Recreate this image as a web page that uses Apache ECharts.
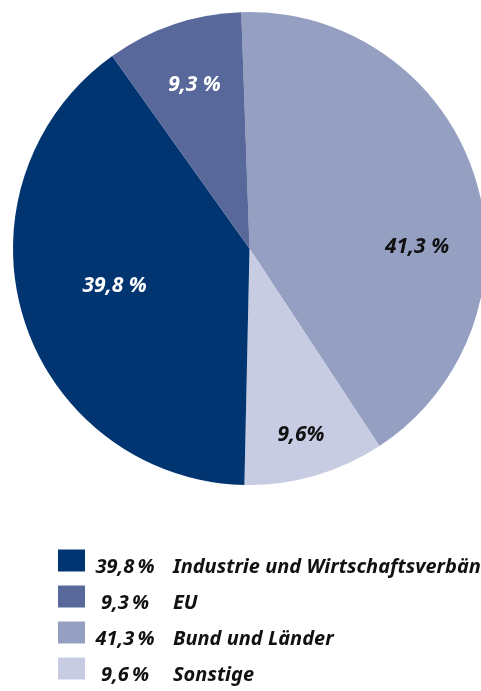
<!DOCTYPE html>
<html><head><meta charset="utf-8">
<script src="https://cdn.jsdelivr.net/npm/echarts@6/dist/echarts.min.js"></script>
<style>html,body{margin:0;padding:0;background:#fff}#c{width:481px;height:691px}</style>
</head><body><div id="c"></div>
<script>
// data (clockwise from 12 o'clock)
const categories = ['Bund und Länder', 'Sonstige', 'Industrie und Wirtschaftsverbände', 'EU'];
const values = [41.3, 9.6, 39.8, 9.3];
const valueLabels = ['41,3 %', '9,6%', '39,8 %', '9,3 %'];
const legendOrder = ['Industrie und Wirtschaftsverbände', 'EU', 'Bund und Länder', 'Sonstige'];
const legendPercents = {'Industrie und Wirtschaftsverbände':'39,8\u2009%', 'EU':'9,3\u2009%', 'Bund und Länder':'41,3\u2009%', 'Sonstige':'9,6\u2009%'};

// styles
const colors = ['#949fc2', '#c8cce2', '#003571', '#58689a'];
const labelColors = ['#111', '#111', '#fff', '#fff'];
const labelOffsets = [[52, 35], [18, 70], [-19, 2], [-16, -49]];
const FONT = '"Noto Sans", "Open Sans", sans-serif';
const LEG_FS = 20;

const chart = echarts.init(document.getElementById('c'), null, {renderer: 'canvas'});
const txt = {fontFamily: FONT, fontSize: LEG_FS, fontWeight: 'bold', fontStyle: 'italic', color: '#111', lineHeight: 22};
chart.setOption({
  animation: false,
  color: colors,
  legend: {
    orient: 'vertical',
    left: 53,
    top: 539,
    height: 300,
    itemWidth: 27,
    itemHeight: 22,
    itemGap: 3,
    icon: 'rect',
    selectedMode: false,
    data: legendOrder,
    formatter: name => '{p|' + legendPercents[name] + '}{n|' + name + '}',
    textStyle: Object.assign({}, txt, {
      rich: {
        p: Object.assign({width: 70, align: 'right', padding: [13, 0, 0, 0]}, txt),
        n: Object.assign({padding: [13, 0, 0, 13]}, txt)
      }
    })
  },
  series: [{
    type: 'pie',
    center: [249.5, 248.5],
    radius: 236.5,
    startAngle: 92,
    clockwise: true,
    avoidLabelOverlap: false,
    itemStyle: {borderWidth: 0},
    emphasis: {disabled: true},
    labelLine: {show: false},
    data: categories.map((c, i) => ({
      name: c,
      value: values[i],
      itemStyle: {color: colors[i]},
      label: {
        show: true,
        position: 'inside',
        formatter: valueLabels[i],
        color: labelColors[i],
        offset: labelOffsets[i],
        fontFamily: FONT,
        fontSize: 21,
        fontWeight: 'bold',
        fontStyle: 'italic',
        textBorderWidth: 0
      }
    }))
  }]
});
</script></body></html>
